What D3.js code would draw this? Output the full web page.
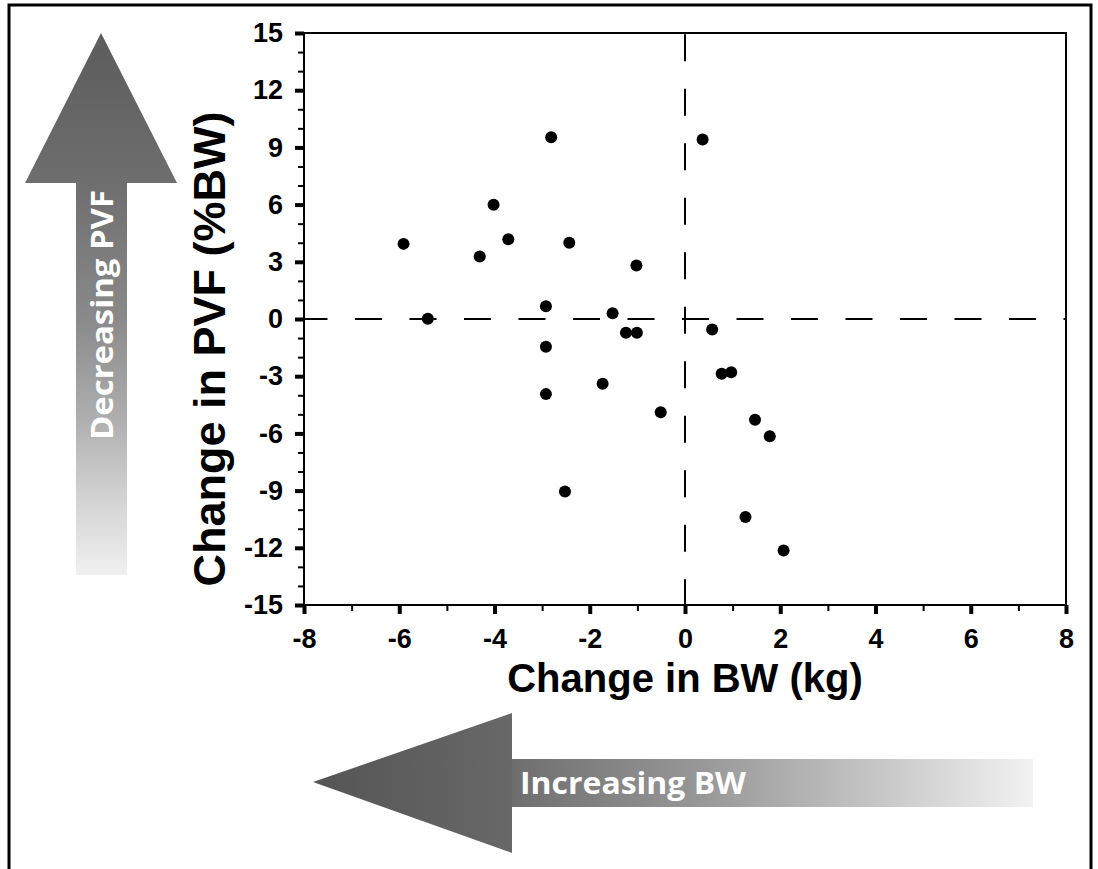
<!DOCTYPE html>
<html>
<head>
<meta charset="utf-8">
<script src="https://cdn.jsdelivr.net/npm/d3@7"></script>
<style>
  body { margin: 0; background: #fff; }
  svg { display: block; }
</style>
</head>
<body>
<div id="chart"></div>
<script>
// data: change in BW (kg) vs change in PVF (%BW)
const bwChange = [-5.91, -5.40, -4.31, -4.02, -3.71, -2.81, -2.92, -2.92, -2.92, -2.52,
                  -2.43, -1.73, -1.52, -1.24, -1.01, -1.02, -0.51, 0.37, 0.57, 0.77,
                  0.97, 1.47, 1.78, 1.27, 2.07];
const pvfChange = [3.94, 0.01, 3.28, 5.99, 4.18, 9.53, 0.67, -1.46, -3.94, -9.05,
                   4.00, -3.40, 0.30, -0.72, -0.72, 2.81, -4.89, 9.41, -0.55, -2.87,
                   -2.79, -5.29, -6.15, -10.39, -12.14];

const xTicks = [-8, -6, -4, -2, 0, 2, 4, 6, 8];
const xMinor = [-7, -5, -3, -1, 1, 3, 5, 7];
const yTicks = [-15, -12, -9, -6, -3, 0, 3, 6, 9, 12, 15];
const yMinor = d3.range(-14, 15).filter(v => v % 3 !== 0);

const xTitle = "Change in BW (kg)";
const yTitle = "Change in PVF (%BW)";
const vArrowText = "Decreasing PVF";
const hArrowText = "Increasing BW";

const width = 1098, height = 869;
const plot = {left: 304, right: 1066, top: 33, bottom: 605};
const font = "'Liberation Sans', Arial, sans-serif";

const svg = d3.select("#chart").append("svg")
  .attr("width", width)
  .attr("height", height);

const xscale = d3.scaleLinear().domain([-8, 8]).range([plot.left, plot.right]);
const yscale = d3.scaleLinear().domain([-15, 15]).range([plot.bottom, plot.top]);

// outer border of the figure
svg.append("path")
  .attr("d", `M9,${height + 5} V5 H1091 V${height + 5}`)
  .attr("fill", "none")
  .attr("stroke", "black")
  .attr("stroke-width", 3);

// ============================
// gradient arrows
// ============================
const defs = svg.append("defs");

const vShaft = defs.append("linearGradient").attr("id", "vShaft")
  .attr("x1", 0).attr("y1", 0).attr("x2", 0).attr("y2", 1);
[[0, "#6e6e6e"], [0.35, "#8a8a8a"], [0.6, "#aeaeae"], [0.8, "#d2d2d2"], [1, "#f0f0f0"]]
  .forEach(([o, c]) => vShaft.append("stop").attr("offset", o).attr("stop-color", c));

const vHead = defs.append("linearGradient").attr("id", "vHead")
  .attr("x1", 0).attr("y1", 0).attr("x2", 0).attr("y2", 1);
[[0, "#5c5c5c"], [1, "#6e6e6e"]]
  .forEach(([o, c]) => vHead.append("stop").attr("offset", o).attr("stop-color", c));

const hShaft = defs.append("linearGradient").attr("id", "hShaft")
  .attr("x1", 0).attr("y1", 0).attr("x2", 1).attr("y2", 0);
[[0, "#6e6e6e"], [0.4, "#9c9c9c"], [0.7, "#c6c6c6"], [1, "#f2f2f2"]]
  .forEach(([o, c]) => hShaft.append("stop").attr("offset", o).attr("stop-color", c));

const hHead = defs.append("linearGradient").attr("id", "hHead")
  .attr("x1", 0).attr("y1", 0).attr("x2", 1).attr("y2", 0);
[[0, "#555555"], [1, "#686868"]]
  .forEach(([o, c]) => hHead.append("stop").attr("offset", o).attr("stop-color", c));

// vertical arrow (left)
svg.append("rect")
  .attr("x", 76).attr("y", 182).attr("width", 51).attr("height", 393)
  .attr("fill", "url(#vShaft)");
svg.append("path")
  .attr("d", "M101,33 L177,183 L25,183 Z")
  .attr("fill", "url(#vHead)");
svg.append("text")
  .attr("transform", "translate(113,440) rotate(-90)")
  .attr("font-family", "'Open Sans', sans-serif")
  .attr("font-weight", 700)
  .attr("font-size", 31)
  .attr("textLength", 250)
  .attr("lengthAdjust", "spacingAndGlyphs")
  .attr("fill", "white")
  .text(vArrowText);

// horizontal arrow (bottom)
svg.append("rect")
  .attr("x", 511).attr("y", 759).attr("width", 522).attr("height", 48)
  .attr("fill", "url(#hShaft)");
svg.append("path")
  .attr("d", "M313,782 L512,713 L512,853 Z")
  .attr("fill", "url(#hHead)");
svg.append("text")
  .attr("x", 520).attr("y", 794)
  .attr("font-family", "'Open Sans', sans-serif")
  .attr("font-weight", 700)
  .attr("font-size", 31)
  .attr("textLength", 226)
  .attr("lengthAdjust", "spacingAndGlyphs")
  .attr("fill", "white")
  .text(hArrowText);

// ============================
// axes
// ============================
const xAxis = g => g
  .attr("transform", `translate(0,${plot.bottom})`)
  .call(d3.axisBottom(xscale).tickValues(xTicks).tickSize(9).tickSizeOuter(0).tickPadding(15)
    .tickFormat(d3.format("d")));

const xMinorAxis = g => g
  .attr("transform", `translate(0,${plot.bottom})`)
  .call(d3.axisBottom(xscale).tickValues(xMinor).tickSize(6).tickSizeOuter(0).tickFormat(""));

const yAxis = g => g
  .attr("transform", `translate(${plot.left},0)`)
  .call(d3.axisLeft(yscale).tickValues(yTicks).tickSize(9).tickSizeOuter(0).tickPadding(12)
    .tickFormat(d3.format("d")));

const yMinorAxis = g => g
  .attr("transform", `translate(${plot.left},0)`)
  .call(d3.axisLeft(yscale).tickValues(yMinor).tickSize(6).tickSizeOuter(0).tickFormat(""));

const gxm = svg.append("g").call(xMinorAxis);
const gym = svg.append("g").call(yMinorAxis);
const gx = svg.append("g").call(xAxis);
const gy = svg.append("g").call(yAxis);

[gxm, gym].forEach(g => {
  g.select(".domain").remove();
  g.selectAll(".tick line").attr("stroke", "black").attr("stroke-width", 2);
});
[gx, gy].forEach(g => {
  g.select(".domain").remove();
  g.selectAll(".tick line").attr("stroke", "black").attr("stroke-width", 4);
  g.selectAll(".tick text")
    .attr("fill", "black")
    .attr("font-family", font)
    .attr("font-weight", "bold")
    .attr("font-size", 27);
});
// the minus signs in the figure are plain hyphens
gx.selectAll(".tick text").text(d => String(d));
gy.selectAll(".tick text").text(d => String(d));

// plot frame
svg.append("rect")
  .attr("x", plot.left).attr("y", plot.top)
  .attr("width", plot.right - plot.left).attr("height", plot.bottom - plot.top)
  .attr("fill", "none")
  .attr("stroke", "black")
  .attr("stroke-width", 2);

// zero reference lines
svg.append("line")
  .attr("x1", xscale(-8)).attr("x2", xscale(8))
  .attr("y1", yscale(0)).attr("y2", yscale(0))
  .attr("stroke", "black").attr("stroke-width", 2)
  .attr("stroke-dasharray", "27,27.5")
  .attr("stroke-dashoffset", 3.5);

svg.append("line")
  .attr("x1", xscale(0)).attr("x2", xscale(0))
  .attr("y1", yscale(15)).attr("y2", yscale(-15))
  .attr("stroke", "black").attr("stroke-width", 2)
  .attr("stroke-dasharray", "27,27.5")
  .attr("stroke-dashoffset", -1.2);

// axis titles
svg.append("text")
  .attr("x", (plot.left + plot.right) / 2)
  .attr("y", 692)
  .attr("text-anchor", "middle")
  .attr("font-family", font)
  .attr("font-weight", "bold")
  .attr("font-size", 40)
  .text(xTitle);

svg.append("text")
  .attr("transform", "translate(225,349) rotate(-90)")
  .attr("text-anchor", "middle")
  .attr("font-family", font)
  .attr("font-weight", "bold")
  .attr("font-size", 45)
  .text(yTitle);

// ============================
// points
// ============================
const points = bwChange.map((x, i) => ({x: x, y: pvfChange[i]}));

svg.append("g")
  .attr("fill", "black")
  .selectAll("circle")
  .data(points)
  .join("circle")
  .attr("r", 6)
  .attr("cx", d => xscale(d.x))
  .attr("cy", d => yscale(d.y));
</script>
</body>
</html>
